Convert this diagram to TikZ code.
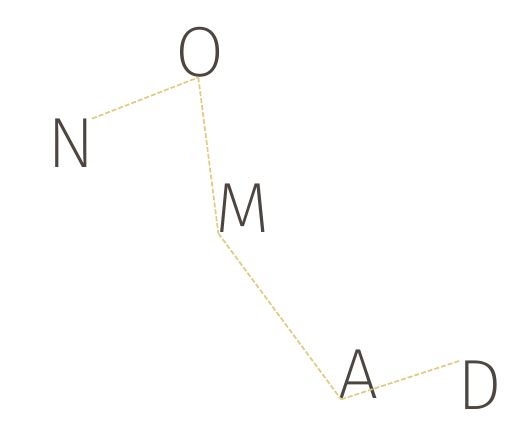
\documentclass[tikz,border=0pt]{standalone}
\usepackage{fontspec}
\setmainfont{Fira Sans}[UprightFont={* ExtraLight}]
\usepackage{xcolor}
\usepackage{tikz}
\definecolor{tinta}{HTML}{4D4640}
\definecolor{areia}{HTML}{E0CB80}
\tikzset{
  letra/.style={inner ysep=0pt, inner xsep=-1.5pt, text height=24.5pt, text depth=0pt, anchor=base, text=tinta, font=\fontsize{35.5}{36}\selectfont},
  trilha/.style={draw=areia, line width=0.85pt, dash pattern=on 2.5pt off 1pt},
}
\begin{document}
\begin{tikzpicture}[x=0.5pt, y=-0.5pt]
  \useasboundingbox (0,0) rectangle (511,427);
  \node[letra] (n) at (71,168) {N};
  \node[letra] (o) at (200.5,77) {O};
  \node[letra] (m) at (243,233) {M};
  \node[letra] (a) at (358.5,399) {A};
  \node[letra] (d) at (480,410) {D};
  \draw[trilha] (n.north east) -- (o.265);
  \draw[trilha] (o.265) -- (m.south west);
  \draw[trilha] (m.south west) -- (a.south west);
  \draw[trilha] (a.south west) -- (d.north west);
\end{tikzpicture}
\end{document}
